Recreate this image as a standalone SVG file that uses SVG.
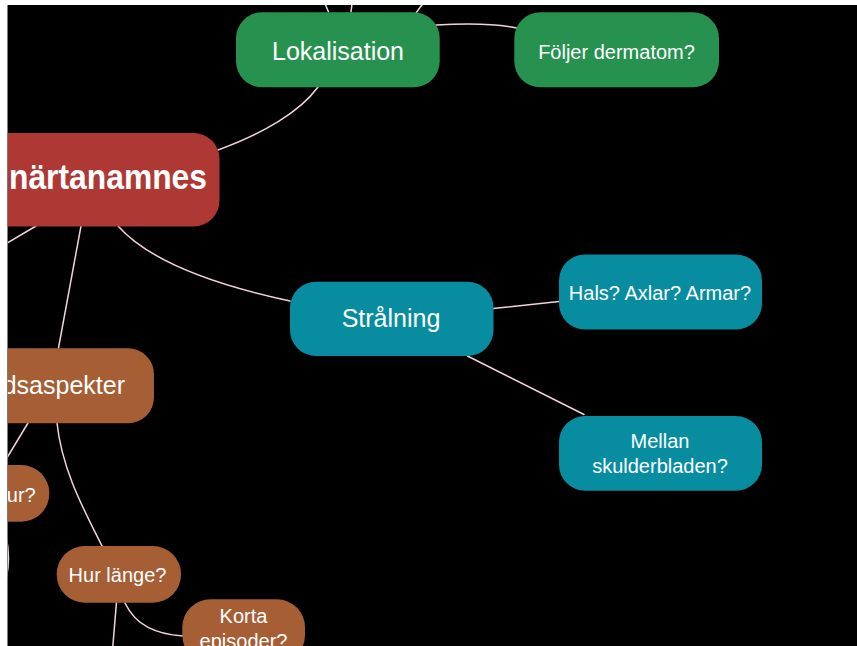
<svg xmlns="http://www.w3.org/2000/svg" width="857" height="646" viewBox="0 0 857 646">
  <style>
    .link { fill: none; stroke: #F2D3DA; stroke-width: 1.5; stroke-linecap: round; }
    .lbl { fill: #FFFFFF; font-family: "Liberation Sans", Arial, sans-serif; text-anchor: middle; }
    .big { font-size: 25px; }
    .small { font-size: 20px; }
    .root { fill: #AD3834; }
    .green { fill: #27914F; }
    .teal { fill: #078D9F; }
    .brown { fill: #A65E35; }
  </style>
  <defs>
    <clipPath id="canvas">
      <rect x="7.5" y="5" width="850" height="641"/>
    </clipPath>
  </defs>

  <!-- page frame -->
  <rect x="0" y="0" width="857" height="646" fill="#FFFFFF"/>
  <rect x="7.5" y="5" width="850" height="641" fill="#000000"/>

  <g clip-path="url(#canvas)">
    <!-- connectors -->
    <g id="connectors">
      <path class="link" d="M 218,150 C 262,134 300,112 318,87"/>
      <path class="link" d="M 436,25 C 470,23 498,24 517,28"/>
      <path class="link" d="M 328.5,12 L 323.5,0"/>
      <path class="link" d="M 351,12 L 352.5,0"/>
      <path class="link" d="M 416,13 L 425.5,0"/>
      <path class="link" d="M 118,226 C 150,262 220,286 290,301"/>
      <path class="link" d="M 493,308.5 L 559,301.5"/>
      <path class="link" d="M 467.5,356 L 584,414.5"/>
      <path class="link" d="M 36,226 L 4,245"/>
      <path class="link" d="M 81,226 L 58.5,348"/>
      <path class="link" d="M 28,423 L 5,461"/>
      <path class="link" d="M 57,423 C 62,470 84,510 102,546"/>
      <path class="link" d="M 125,603 C 136,626 156,634 183,636"/>
      <path class="link" d="M 116.5,602 L 112.5,650"/>
      <path class="link" d="M 5,532 Q 12,558 5,584"/>
    </g>

    <!-- central topic -->
    <g id="node-root">
      <rect class="root" x="-40" y="133" width="259.5" height="93.5" rx="26"/>
      <text class="lbl" x="207" y="189" font-size="35" font-weight="bold" text-anchor="end" style="text-anchor:end" textLength="198" lengthAdjust="spacingAndGlyphs">närtanamnes</text>
    </g>

    <g id="node-lokalisation">
      <rect class="green" x="236" y="12.3" width="203.7" height="75" rx="26"/>
      <text class="lbl big" x="338" y="60">Lokalisation</text>
    </g>

    <g id="node-dermatom">
      <rect class="green" x="514.3" y="12.3" width="204.7" height="75" rx="26"/>
      <text class="lbl small" x="616.5" y="58.5">Följer dermatom?</text>
    </g>

    <g id="node-stralning">
      <rect class="teal" x="290" y="281.7" width="203.5" height="74.3" rx="26"/>
      <text class="lbl big" x="391" y="327.3">Strålning</text>
    </g>

    <g id="node-hals">
      <rect class="teal" x="559" y="254.5" width="203" height="75" rx="26"/>
      <text class="lbl small" x="660" y="300">Hals? Axlar? Armar?</text>
    </g>

    <g id="node-mellan">
      <rect class="teal" x="559" y="416" width="203" height="74.7" rx="26"/>
      <text class="lbl small" x="660" y="448.3">Mellan</text>
      <text class="lbl small" x="660" y="473.3">skulderbladen?</text>
    </g>

    <g id="node-tidsaspekter">
      <rect class="brown" x="-50" y="348.3" width="204" height="75" rx="26"/>
      <text class="lbl big" x="125" y="394.3" style="text-anchor:end">dsaspekter</text>
    </g>

    <g id="node-hur">
      <rect class="brown" x="-60" y="465" width="109.3" height="56.7" rx="28"/>
      <text class="lbl small" x="35.7" y="501.7" style="text-anchor:end">ur?</text>
    </g>

    <g id="node-hur-lange">
      <rect class="brown" x="56.7" y="546" width="124.3" height="56.7" rx="28"/>
      <text class="lbl small" x="117.5" y="581.7">Hur länge?</text>
    </g>

    <g id="node-korta">
      <rect class="brown" x="182.3" y="599.3" width="122.7" height="64" rx="28"/>
      <text class="lbl small" x="243.5" y="623">Korta</text>
      <text class="lbl small" x="243.5" y="648">episoder?</text>
    </g>
  </g>

  <!-- soft edge where the canvas meets the page -->
  <line x1="7.5" y1="5" x2="7.5" y2="646" stroke="#808080" stroke-opacity="0.6" stroke-width="1"/>
</svg>
